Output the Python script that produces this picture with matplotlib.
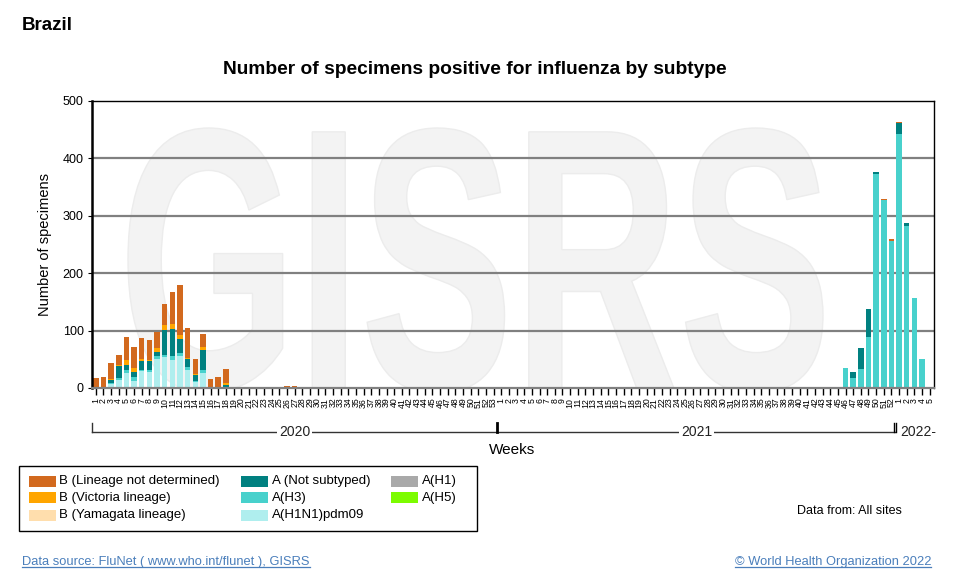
import numpy as np
import matplotlib
matplotlib.use("Agg")
import matplotlib.pyplot as plt
from matplotlib.patches import Rectangle, PathPatch
from matplotlib.lines import Line2D
from matplotlib.textpath import TextPath
from matplotlib.font_manager import FontProperties
from matplotlib.transforms import Affine2D, blended_transform_factory

plt.rcParams['font.family'] = ['Liberation Sans', 'DejaVu Sans']

# ---------------- data ----------------
weeks_2020 = list(range(1, 54))
weeks_2021 = list(range(1, 53))
weeks_2022 = list(range(1, 6))
week_labels = [str(w) for w in weeks_2020 + weeks_2021 + weeks_2022]
years = ["2020", "2021", "2022-"]

# 2020 (weeks 1..53)
pdm09_2020 = [0, 0, 7, 14, 26, 13, 29, 28, 50, 54, 49, 55, 32, 10, 26, 1, 0, 1, 0, 0,
              0, 0, 0, 0, 0, 0, 0, 1, 0, 0, 0, 0, 0, 0, 0, 0, 0, 0, 0, 0,
              0, 0, 0, 0, 0, 0, 0, 0, 0, 0, 0, 0, 0]
h3_2020 = [0, 0, 2, 4, 5, 6, 3, 3, 6, 4, 7, 6, 4, 2, 5, 0, 0, 0, 0, 0,
           0, 0, 0, 0, 0, 0, 0, 0, 0, 0, 0, 0, 0, 0, 0, 0, 0, 0, 0, 0,
           0, 0, 0, 0, 0, 0, 0, 0, 0, 0, 0, 0, 0]
notsub_2020 = [1, 1, 5, 20, 9, 9, 15, 16, 7, 43, 46, 25, 15, 10, 35, 0, 0, 5, 0, 0,
               0, 0, 0, 0, 0, 0, 0, 0, 0, 0, 0, 0, 0, 0, 0, 0, 0, 0, 0, 0,
               0, 0, 0, 0, 0, 0, 0, 0, 0, 0, 0, 0, 0]
vic_2020 = [0, 1, 2, 2, 8, 6, 3, 2, 6, 8, 10, 7, 2, 3, 5, 1, 0, 3, 0, 0,
            0, 0, 0, 0, 0, 0, 0, 0, 0, 0, 0, 0, 0, 0, 0, 0, 0, 0, 0, 0,
            0, 0, 0, 0, 0, 0, 0, 0, 0, 0, 0, 0, 0]
bnd_2020 = [17, 18, 28, 18, 41, 37, 37, 35, 28, 38, 56, 87, 52, 25, 23, 14, 20, 24, 1, 1,
            0, 0, 1, 0, 1, 3, 4, 0, 1, 0, 0, 0, 0, 0, 0, 0, 0, 0, 0, 0,
            0, 0, 0, 0, 0, 0, 0, 0, 0, 0, 0, 0, 0]

# 2021 (weeks 1..52)
pdm09_2021 = [0, 0, 0, 1] + [0] * 48
h3_2021 = [0] * 45 + [34, 18, 33, 89, 373, 327, 256]
notsub_2021 = [0] * 45 + [0, 10, 36, 48, 4, 0, 0]
vic_2021 = [0] * 52
bnd_2021 = [0, 0, 0, 0, 0, 1] + [0] * 39 + [0, 0, 0, 0, 0, 3, 3]

# 2022 (weeks 1..5)
pdm09_2022 = [0, 0, 0, 0, 0]
h3_2022 = [442, 282, 157, 50, 0]
notsub_2022 = [19, 6, 0, 0, 0]
vic_2022 = [0, 0, 0, 0, 0]
bnd_2022 = [3, 0, 0, 0, 0]

h1 = [0] * 110
h5 = [0] * 110
yam = [0] * 110

series = [
    ("A(H1N1)pdm09", pdm09_2020 + pdm09_2021 + pdm09_2022, "#AFEEEE"),
    ("A(H3)", h3_2020 + h3_2021 + h3_2022, "#48D1CC"),
    ("A (Not subtyped)", notsub_2020 + notsub_2021 + notsub_2022, "#008080"),
    ("A(H1)", h1, "#A9A9A9"),
    ("A(H5)", h5, "#7CFC00"),
    ("B (Yamagata lineage)", yam, "#FFDEAD"),
    ("B (Victoria lineage)", vic_2020 + vic_2021 + vic_2022, "#FFA500"),
    ("B (Lineage not determined)", bnd_2020 + bnd_2021 + bnd_2022, "#D2691E"),
]
colors = {name: c for name, _, c in series}

# ---------------- figure ----------------
W, H = 963, 581
fig = plt.figure(figsize=(W / 100, H / 100), dpi=100)
fig.patch.set_facecolor("white")

def fx(px):
    return px / W

def fy(py):
    return 1 - py / H

ax = fig.add_axes([fx(92), fy(388), (933.5 - 92) / W, (388 - 101) / H])

n = len(week_labels)
x = np.arange(n)

# watermark
tp = TextPath((0, 0), "GISRS", size=100,
              prop=FontProperties(family="Liberation Sans", weight="bold"))
ext = tp.get_extents()
bx0, bx1 = (128 - 92) / 841.5, (823 - 92) / 841.5
by0, by1 = (388 - 393) / 287, (388 - 128) / 287
trans = (Affine2D().translate(-ext.x0, -ext.y0)
         .scale((bx1 - bx0) / ext.width, (by1 - by0) / ext.height)
         .translate(bx0, by0) + ax.transAxes)
wm = PathPatch(tp, transform=trans, facecolor="#f3f3f3", edgecolor="#ececec",
               lw=1.0, zorder=0)
ax.add_patch(wm)

# grid
for yv in [100, 200, 300, 400]:
    ax.axhline(yv, color="#808080", lw=1.6, zorder=1)

bottom = np.zeros(n)
for name, vals, col in series:
    v = np.array(vals, dtype=float)
    ax.bar(x, v, bottom=bottom, width=0.72, color=col, edgecolor="none", zorder=2)
    bottom += v

ax.set_xlim(-0.5, n - 0.5)
ax.set_ylim(0, 500)
ax.set_yticks([0, 100, 200, 300, 400, 500])
ax.tick_params(axis="y", labelsize=9, length=3, pad=3, colors="black")
ax.set_xticks(x)
ax.set_xticklabels(week_labels, rotation=90, fontsize=6.3, color="#222222")
ax.tick_params(axis="x", length=5, width=1, pad=2, colors="black")

for s in ["top", "right"]:
    ax.spines[s].set_color("black")
    ax.spines[s].set_linewidth(1.0)
ax.spines["left"].set_color("black")
ax.spines["left"].set_linewidth(1.8)
ax.spines["bottom"].set_color("#808080")
ax.spines["bottom"].set_linewidth(1.6)

ax.set_ylabel("Number of specimens", fontsize=10.5, labelpad=8)

# year brackets
bt = blended_transform_factory(ax.transData, fig.transFigure)
yl = fy(431.7)
yt = fy(423)
ax.add_line(Line2D([-0.5, 104.5], [yl, yl], transform=bt, color="#333333",
                   lw=1.0, clip_on=False))
ax.add_line(Line2D([-0.5, -0.5], [yl, yt], transform=bt, color="#333333",
                   lw=1.0, clip_on=False))
ax.add_line(Line2D([52.5, 52.5], [yl, yt], transform=bt, color="black",
                   lw=2.0, clip_on=False))
for dx in (-0.15, 0.15):
    ax.add_line(Line2D([104.5 + dx, 104.5 + dx], [yl, yt], transform=bt,
                       color="black", lw=1.0, clip_on=False))
ax.text(26, yl, years[0], transform=bt, ha="center", va="center", fontsize=10,
        color="#222222", bbox=dict(facecolor="white", edgecolor="none", pad=1.5))
ax.text(78.5, yl, years[1], transform=bt, ha="center", va="center", fontsize=10,
        color="#222222", bbox=dict(facecolor="white", edgecolor="none", pad=1.5))
ax.text(105.2, yl, years[2], transform=bt, ha="left", va="center", fontsize=10,
        color="#222222")

fig.text(fx(512), fy(450), "Weeks", ha="center", va="center", fontsize=11)

# titles
fig.text(fx(22), fy(25), "Brazil", ha="left", va="center", fontsize=13.5,
         fontweight="bold")
fig.text(fx(475), fy(70), "Number of specimens positive for influenza by subtype",
         ha="center", va="center", fontsize=13.8, fontweight="bold")

# legend box
fig.add_artist(Rectangle((fx(18.5), fy(530.5)), (476.5 - 18.5) / W, (530.5 - 466) / H,
                         transform=fig.transFigure, facecolor="white",
                         edgecolor="black", lw=1.0))
legend_items = [
    ("B (Lineage not determined)", 28.5, 481),
    ("B (Victoria lineage)", 28.5, 497.5),
    ("B (Yamagata lineage)", 28.5, 515),
    ("A (Not subtyped)", 241, 481),
    ("A(H3)", 241, 497.5),
    ("A(H1N1)pdm09", 241, 515),
    ("A(H1)", 391, 481),
    ("A(H5)", 391, 497.5),
]
for name, px, py in legend_items:
    fig.add_artist(Rectangle((fx(px), fy(py + 5.5)), 27 / W, 11 / H,
                             transform=fig.transFigure, facecolor=colors[name],
                             edgecolor="none"))
    fig.text(fx(px + 30.5), fy(py), name, ha="left", va="center", fontsize=9.5)

fig.text(fx(902), fy(510.5), "Data from: All sites", ha="right", va="center",
         fontsize=9)

link_col = "#4A7EBB"
t1 = fig.text(fx(22), fy(562), "Data source: FluNet ( www.who.int/flunet ), GISRS",
              ha="left", va="center", fontsize=9.3, color=link_col)
t2 = fig.text(fx(931), fy(562), "\u00a9 World Health Organization 2022",
              ha="right", va="center", fontsize=9.3, color=link_col)

fig.canvas.draw()
r = fig.canvas.get_renderer()
for t in (t1, t2):
    bb = t.get_window_extent(r)
    yy = (bb.y0 + 1.0) / fig.bbox.height
    fig.add_artist(Line2D([bb.x0 / fig.bbox.width, bb.x1 / fig.bbox.width], [yy, yy],
                          transform=fig.transFigure, color=link_col, lw=0.9))

fig.savefig("out.png", dpi=100, facecolor="white")
